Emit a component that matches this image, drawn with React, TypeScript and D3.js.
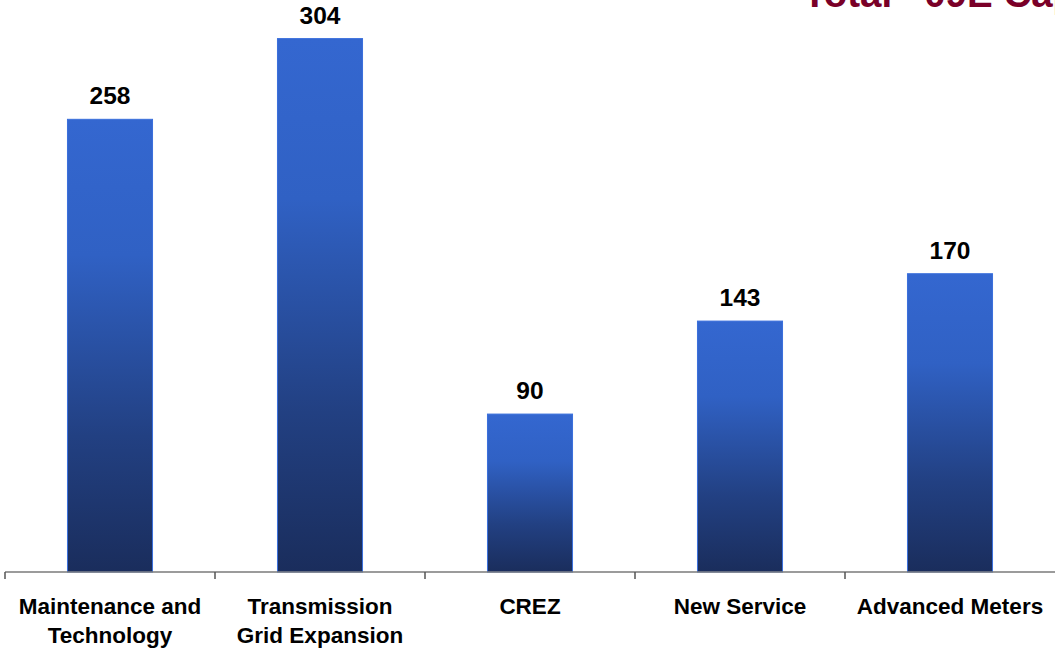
import React, {useEffect, useRef} from 'react';
import * as d3 from 'd3';

// chart values
const categories: string[][] = [
    ['Maintenance and', 'Technology'],
    ['Transmission', 'Grid Expansion'],
    ['CREZ'],
    ['New Service'],
    ['Advanced Meters'],
];
const capex: number[] = [258, 304, 90, 143, 170];
const title = "Total  ’09E Capital Expenditures";

const W = 1055;
const H = 649;

export default function App() {
    const ref = useRef<SVGSVGElement>(null);

    useEffect(() => {
        const margin = {top: 0, right: 0, bottom: 77, left: 5};
        const width = W - margin.left - margin.right;
        const height = H - margin.top - margin.bottom;

        const svg = d3.select(ref.current);
        svg.selectAll('*').remove();

        //gradient for the bars, bright at the top and navy at the bottom
        const grad = svg.append('defs').append('linearGradient')
            .attr('id', 'barGrad')
            .attr('x1', 0).attr('y1', 0).attr('x2', 0).attr('y2', 1);
        grad.append('stop').attr('offset', '0%').attr('stop-color', '#3467d0');
        grad.append('stop').attr('offset', '30%').attr('stop-color', '#3061c4');
        grad.append('stop').attr('offset', '70%').attr('stop-color', '#224082');
        grad.append('stop').attr('offset', '100%').attr('stop-color', '#1a2d5c');

        const g = svg.append('g')
            .attr('transform', `translate(${margin.left},${margin.top})`);

        const idx = capex.map((_, i) => String(i));
        const xScale = d3.scaleBand()
            .domain(idx)
            .range([0, width])
            .paddingInner(0)
            .paddingOuter(0);

        const yScale = d3.scaleLinear()
            .domain([0, 326])
            .range([height, 0]);

        const barW = xScale.bandwidth() * 0.405;

        //bars
        g.selectAll('rect.bar')
            .data(capex)
            .enter()
            .append('rect')
            .attr('class', 'bar')
            .attr('x', (_, i) => xScale(String(i))! + (xScale.bandwidth() - barW) / 2)
            .attr('y', d => yScale(d))
            .attr('width', barW)
            .attr('height', d => height - yScale(d))
            .attr('fill', 'url(#barGrad)')
            .attr('stroke', '#3a6fdc')
            .attr('stroke-width', 1);

        //value labels
        g.selectAll('text.val')
            .data(capex)
            .enter()
            .append('text')
            .attr('class', 'val')
            .attr('x', (_, i) => xScale(String(i))! + xScale.bandwidth() / 2)
            .attr('y', d => yScale(d) - 15)
            .attr('text-anchor', 'middle')
            .attr('font-family', 'Liberation Sans, Arial, sans-serif')
            .attr('font-weight', 'bold')
            .attr('font-size', 24.5)
            .attr('fill', '#000')
            .text(d => d);

        //x axis: baseline plus ticks at the band edges
        const axis = g.append('g').attr('transform', `translate(0,${height})`);
        axis.append('line')
            .attr('x1', 0).attr('x2', width)
            .attr('y1', 0).attr('y2', 0)
            .attr('stroke', '#7a7a7a')
            .attr('stroke-width', 1.5);
        axis.selectAll('line.tick')
            .data(idx)
            .enter()
            .append('line')
            .attr('class', 'tick')
            .attr('x1', d => xScale(d)!)
            .attr('x2', d => xScale(d)!)
            .attr('y1', 0).attr('y2', 7)
            .attr('stroke', '#555')
            .attr('stroke-width', 1.5);

        //category labels
        const labels = axis.selectAll('text.cat')
            .data(categories)
            .enter()
            .append('text')
            .attr('class', 'cat')
            .attr('x', (_, i) => xScale(String(i))! + xScale.bandwidth() / 2)
            .attr('y', 42)
            .attr('text-anchor', 'middle')
            .attr('font-family', 'Liberation Sans, Arial, sans-serif')
            .attr('font-weight', 'bold')
            .attr('font-size', 22.5)
            .attr('fill', '#000');
        labels.each(function (lines, i) {
            const t = d3.select(this);
            const cx = xScale(String(i))! + xScale.bandwidth() / 2;
            lines.forEach((l, j) => {
                t.append('tspan')
                    .attr('x', cx)
                    .attr('dy', j === 0 ? 0 : 29)
                    .text(l);
            });
        });

        //title, clipped at the top right like the slide
        svg.append('text')
            .attr('x', 803)
            .attr('y', 7)
            .attr('font-family', 'Liberation Sans, Arial, sans-serif')
            .attr('font-weight', 'bold')
            .attr('font-size', 38.5)
            .attr('fill', '#7a0028')
            .style('white-space', 'pre')
            .text(title);
    }, []);

    return (
        <div style={{position: 'fixed', left: 0, top: 0, width: W, height: H, background: '#fff'}}>
            <svg ref={ref} width={W} height={H} style={{display: 'block'}}/>
        </div>
    );
}
